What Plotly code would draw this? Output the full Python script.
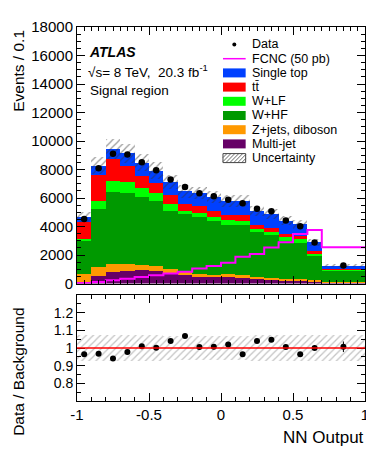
import numpy as np
import plotly.graph_objects as go

# NN output bins (last bin is 0.7-1.0, shown per 0.1)
edges = [-1.0, -0.9, -0.8, -0.7, -0.6, -0.5, -0.4, -0.3, -0.2, -0.1,
         0.0, 0.1, 0.2, 0.3, 0.4, 0.5, 0.6, 0.7, 1.0]

# background components, events / 0.1 (bottom to top of the stack)
multijet = [130, 540, 775, 890, 940, 880, 750, 585, 470, 440, 470, 420, 320, 290, 230, 180, 110, 40]
zjets_diboson = [530, 650, 585, 450, 350, 370, 260, 190, 185, 160, 170, 160, 150, 130, 120, 120, 110, 40]
w_hf = [2330, 4055, 5040, 5010, 4780, 4510, 4095, 4095, 4005, 3780, 3500, 3535, 3120, 3010, 2650, 2550, 1740, 850]
w_lf = [120, 515, 820, 780, 610, 595, 470, 185, 300, 320, 330, 285, 245, 210, 270, 270, 160, 70]
ttbar = [1240, 1885, 1485, 1100, 850, 705, 610, 520, 470, 405, 350, 420, 280, 290, 200, 190, 140, 30]
single_top = [310, 635, 725, 900, 940, 870, 915, 895, 920, 955, 980, 970, 965, 920, 930, 840, 620, 230]

fcnc = [30, 100, 220, 330, 460, 580, 700, 820, 1060, 1220, 1455, 1880, 2070, 2520, 2895, 3480, 3760, 2540]
data = [4520, 8090, 9105, 9060, 8515, 7950, 7290, 6780, 6340, 6130, 5880, 5640, 5245, 5070, 4420, 4020, 2870, 1260]

# relative background uncertainty
unc_rel = [0.075, 0.074, 0.073, 0.072, 0.072, 0.071, 0.070, 0.070, 0.070, 0.070,
           0.070, 0.070, 0.071, 0.071, 0.072, 0.073, 0.074, 0.075]

ratio = [0.964, 0.968, 0.94, 0.977, 1.01, 1.001, 1.04, 1.068, 1.005, 1.007,
         1.02, 0.964, 1.04, 1.047, 1.005, 0.964, 1.0, 1.007]
ratio_err = [0.008, 0.008, 0.008, 0.008, 0.008, 0.008, 0.008, 0.008, 0.009, 0.009,
             0.009, 0.009, 0.01, 0.01, 0.011, 0.012, 0.015, 0.03]

stack = [
    ("Multi-jet", multijet, "#660066"),
    ("Z+jets, diboson", zjets_diboson, "#ff9900"),
    ("W+HF", w_hf, "#009900"),
    ("W+LF", w_lf, "#00ff00"),
    ("tt\u0304", ttbar, "#ff0000"),
    ("Single top", single_top, "#0040ff"),
]

edges_a = np.array(edges)
centers = (edges_a[:-1] + edges_a[1:]) / 2
widths = edges_a[1:] - edges_a[:-1]

FONT = "Liberation Sans, Arial, Helvetica, sans-serif"
# the page body has an 8px margin, so the figure starts at (8, 8) in the window
OFF = 8
W, H = 374 - OFF, 449 - OFF
# plot area in window pixels
X_LEFT, X_RIGHT, Y_TOP, Y_BOT = 77, 369, 27, 401
ML, MR, MT, MB = X_LEFT - OFF, W + OFF - X_RIGHT, Y_TOP - OFF, H + OFF - Y_BOT
PW, PH = X_RIGHT - X_LEFT, Y_BOT - Y_TOP


def px(x):
    return (x - X_LEFT) / PW


def py(y):
    return (Y_BOT - y) / PH


fig = go.Figure()

base = np.zeros(len(centers))
for name, vals, col in stack:
    v = np.array(vals, dtype=float)
    fig.add_trace(go.Bar(x=centers, y=v, base=base.copy(), width=widths, name=name,
                         marker=dict(color=col, line=dict(width=0)),
                         showlegend=False, xaxis="x", yaxis="y"))
    base = base + v
total = base

unc = total * np.array(unc_rel)
fig.add_trace(go.Bar(x=centers, y=2 * unc, base=total - unc, width=widths,
                     marker=dict(color="rgba(0,0,0,0)", line=dict(width=0),
                                 pattern=dict(shape="/", fgcolor="#333333", bgcolor="rgba(0,0,0,0)",
                                              size=5, solidity=0.25)),
                     showlegend=False, xaxis="x", yaxis="y"))

# FCNC signal as a step line
fig.add_trace(go.Scatter(x=list(edges), y=fcnc + [fcnc[-1]], mode="lines", line_shape="hv",
                         line=dict(color="#ff00ff", width=2), showlegend=False,
                         xaxis="x", yaxis="y"))

fig.add_trace(go.Scatter(x=centers, y=data, mode="markers",
                         marker=dict(color="black", size=6.5), showlegend=False,
                         xaxis="x", yaxis="y"))

# ratio panel
fig.add_trace(go.Bar(x=centers, y=2 * np.array(unc_rel), base=1 - np.array(unc_rel), width=widths,
                     marker=dict(color="rgba(0,0,0,0)", line=dict(width=0),
                                 pattern=dict(shape="/", fgcolor="#888888", bgcolor="rgba(0,0,0,0)",
                                              size=5, solidity=0.25)),
                     showlegend=False, xaxis="x2", yaxis="y2"))
fig.add_trace(go.Scatter(x=centers, y=ratio, mode="markers",
                         error_y=dict(type="data", array=ratio_err, color="black", width=0, thickness=1),
                         marker=dict(color="black", size=6), showlegend=False,
                         xaxis="x2", yaxis="y2"))

axis_common = dict(showline=True, linecolor="black", linewidth=1, mirror="allticks",
                   ticks="inside", tickcolor="black", ticklen=8, showgrid=False, zeroline=False,
                   tickfont=dict(family=FONT, size=15, color="black"))

fig.update_layout(
    width=W, height=H, margin=dict(l=ML, r=MR, t=MT, b=MB),
    paper_bgcolor="white", plot_bgcolor="white",
    barmode="overlay", bargap=0, showlegend=False,
    font=dict(family=FONT, color="black"),
    xaxis=dict(axis_common, domain=[0, 1], anchor="y", range=[-1, 1], tick0=-1, dtick=0.5,
               showticklabels=False,
               minor=dict(dtick=0.05, ticklen=4, ticks="inside", tickcolor="black")),
    yaxis=dict(axis_common, domain=[py(283.5), 1], anchor="x", range=[0, 18000], dtick=2000,
               tickformat="d",
               minor=dict(dtick=500, ticklen=4, ticks="inside", tickcolor="black")),
    xaxis2=dict(axis_common, domain=[0, 1], anchor="y2", range=[-1, 1], matches="x",
                tickvals=[-1, -0.5, 0, 0.5, 1], ticktext=["-1", "-0.5", "0", "0.5", "1"],
                minor=dict(dtick=0.1, ticklen=4, ticks="inside", tickcolor="black")),
    yaxis2=dict(axis_common, domain=[0, py(295)], anchor="x2", range=[0.7, 1.3],
                tickvals=[0.8, 0.9, 1.0, 1.1, 1.2], ticktext=["0.8", "0.9", "1", "1.1", "1.2"],
                minor=dict(dtick=0.05, ticklen=4, ticks="inside", tickcolor="black")),
)
fig.update_yaxes(tickfont_size=14, selector=dict(anchor="x2"))
fig.update_xaxes(tickfont_size=15, selector=dict(anchor="y2"))

fig.add_shape(type="line", xref="x2 domain", yref="y2", x0=0, x1=1, y0=1, y1=1,
              line=dict(color="#ff0000", width=1.5))

ann = [
    dict(text="Events / 0.1", x=px(17), y=py(28), textangle=-90, xanchor="center", yanchor="top",
         font=dict(size=15.5)),
    dict(text="Data / Background", x=px(17), y=py(372), textangle=-90, xanchor="center",
         yanchor="middle", font=dict(size=15.5)),
    dict(text="NN Output", x=px(370), y=py(437), xanchor="right", yanchor="middle",
         font=dict(size=17)),
    dict(text="<b><i>ATLAS</i></b>", x=px(87), y=py(52), xanchor="left", yanchor="middle",
         font=dict(size=14)),
    dict(text="\u221as= 8 TeV,\u00a0 20.3 fb<sup>-1</sup>", x=px(86), y=py(71), xanchor="left",
         yanchor="middle", font=dict(size=13.5)),
    dict(text="Signal region", x=px(88), y=py(90), xanchor="left", yanchor="middle",
         font=dict(size=13.5)),
]
for a in ann:
    fig.add_annotation(xref="paper", yref="paper", showarrow=False, **a)

# legend drawn by hand to keep the compact ROOT spacing
legend_rows = ["Data", "FCNC (50 pb)", "Single top", "tt\u0304", "W+LF", "W+HF",
               "Z+jets, diboson", "Multi-jet", "Uncertainty"]
colors = {name: col for name, _, col in stack}
y0, dy = 44.5, 14.2
bx0, bx1, bh = 225, 248, 9
for i, label in enumerate(legend_rows):
    yc = y0 + i * dy
    fig.add_annotation(text=label, x=px(252), y=py(yc), xref="paper", yref="paper",
                       xanchor="left", yanchor="middle", showarrow=False,
                       font=dict(size=12.5))
    if label == "Data":
        fig.add_shape(type="circle", xref="paper", yref="paper",
                      x0=px(234.5), x1=px(238.5), y0=py(yc + 2), y1=py(yc - 2),
                      fillcolor="black", line=dict(width=0))
    elif label.startswith("FCNC"):
        fig.add_shape(type="line", xref="paper", yref="paper", x0=px(bx0), x1=px(bx1),
                      y0=py(yc), y1=py(yc), line=dict(color="#ff00ff", width=1.5))
    elif label == "Uncertainty":
        fig.add_shape(type="rect", xref="paper", yref="paper", x0=px(bx0), x1=px(bx1),
                      y0=py(yc + bh / 2), y1=py(yc - bh / 2), fillcolor="white",
                      line=dict(color="#444444", width=1))
        for k in range(-int(bh), bx1 - bx0, 4):
            xa, xb = bx0 + k, bx0 + k + bh
            ya, yb = yc + bh / 2, yc - bh / 2
            if xa < bx0:
                ya -= bx0 - xa
                xa = bx0
            if xb > bx1:
                yb += xb - bx1
                xb = bx1
            fig.add_shape(type="line", xref="paper", yref="paper", x0=px(xa), x1=px(xb),
                          y0=py(ya), y1=py(yb), line=dict(color="#444444", width=0.8))
    else:
        fig.add_shape(type="rect", xref="paper", yref="paper", x0=px(bx0), x1=px(bx1),
                      y0=py(yc + bh / 2), y1=py(yc - bh / 2), fillcolor=colors[label],
                      line=dict(width=0))

fig.write_html("out.html")
